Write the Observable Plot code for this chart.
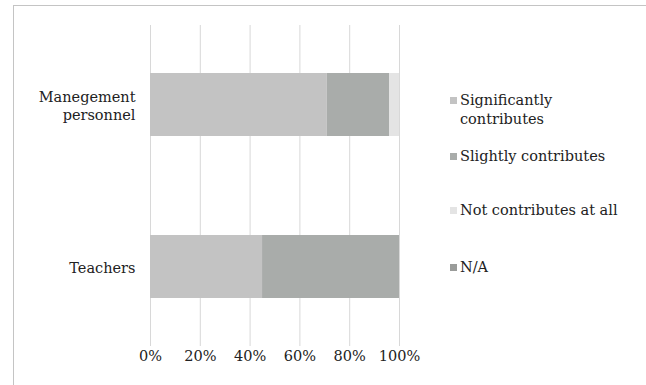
<!DOCTYPE html>
<html>
<head>
<meta charset="utf-8">
<script src="https://cdn.jsdelivr.net/npm/d3@7"></script>
<script src="https://cdn.jsdelivr.net/npm/@observablehq/plot@0.6"></script>
<style>
  body { margin: 0; background: #fff; }
  #wrap { position: relative; width: 646px; height: 385px; background: #fff; overflow: hidden; }
  #frame { position: absolute; left: 13px; top: 5px; width: 640px; height: 390px; border: 1px solid #c4c4c4; box-sizing: border-box; pointer-events: none; }
  #legend { position: absolute; left: 450px; top: 91px; font-family: "DejaVu Serif", serif; font-size: 14.5px; color: #222; }
  .item { position: relative; padding-left: 10px; line-height: 19px; }
  .sw { position: absolute; left: 0; top: 6px; width: 7px; height: 7px; }
</style>
</head>
<body>
<div id="wrap"><div id="frame"></div><div id="legend"></div></div>
<script>
const groups = ["Manegement personnel", "Teachers"];
const categories = ["Significantly contributes", "Slightly contributes", "Not contributes at all", "N/A"];
const management = [71, 25, 4, 0];
const teachers = [45, 55, 0, 0];
const xTicks = [0, 20, 40, 60, 80, 100];
const colors = ["#c3c3c3", "#a9acaa", "#e4e4e4", "#9a9c9a"];
const legendLabels = ["Significantly<br>contributes", "Slightly contributes", "Not contributes at all", "N/A"];

const series = [management, teachers];
const data = [];
groups.forEach((g, gi) => categories.forEach((c, ci) => data.push({group: g, category: c, value: series[gi][ci]})));

const chart = Plot.plot({
  width: 646,
  height: 385,
  marginLeft: 150,
  marginRight: 247,
  marginTop: 25,
  marginBottom: 39,
  style: {fontFamily: "DejaVu Serif, serif", fontSize: "14.5px", color: "#222", background: "transparent"},
  x: {domain: [0, 100], ticks: xTicks, tickFormat: d => d + "%", label: null},
  y: {domain: groups, paddingInner: 0.611, paddingOuter: 0.296, label: null},
  color: {domain: categories, range: colors},
  marks: [
    Plot.ruleX(xTicks, {stroke: "#d8d8d8", strokeWidth: 1}),
    Plot.barX(data, Plot.stackX({x: "value", y: "group", fill: "category", order: categories})),
    Plot.axisX({ticks: xTicks, tickFormat: d => d + "%", tickSize: 0, tickPadding: 4, label: null}),
    Plot.axisY({tickSize: 0, tickPadding: 15, label: null, lineHeight: 1.3,
      tickFormat: d => d === "Manegement personnel" ? "Manegement\npersonnel" : d})
  ]
});
document.getElementById("wrap").insertBefore(chart, document.getElementById("frame"));

const tops = [0, 56, 110, 167];
const legend = document.getElementById("legend");
categories.forEach((c, i) => {
  const d = document.createElement("div");
  d.className = "item";
  d.style.position = "absolute";
  d.style.top = tops[i] + "px";
  d.style.whiteSpace = "nowrap";
  d.innerHTML = `<span class="sw" style="background:${colors[i]}"></span>${legendLabels[i]}`;
  legend.appendChild(d);
});
</script>
</body>
</html>
